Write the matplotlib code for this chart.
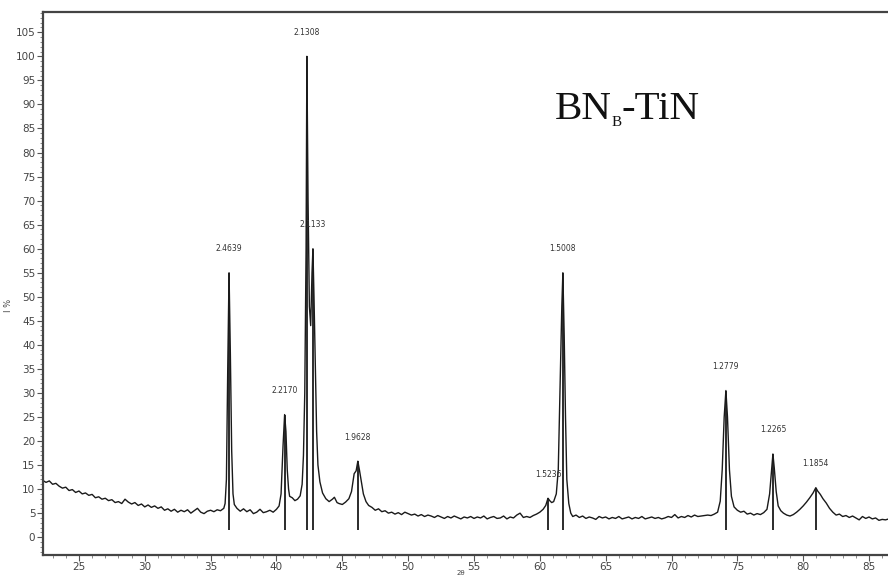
import matplotlib
matplotlib.use("Agg")
import matplotlib.pyplot as plt
from matplotlib.ticker import MultipleLocator

# ---- data: (2theta, I%), by region ----
bg_low = [
    (22.25, 11.8), (22.5, 11.4), (22.75, 11.7), (23.0, 11.0), (23.25, 11.2), (23.5, 10.6),
    (23.75, 10.2), (24.0, 10.4), (24.25, 9.7), (24.5, 9.9), (24.75, 9.3), (25.0, 9.6),
    (25.25, 9.0), (25.5, 9.2), (25.75, 8.7), (26.0, 8.9), (26.25, 8.2), (26.5, 8.4),
    (26.75, 7.9), (27.0, 8.1), (27.25, 7.6), (27.5, 7.8), (27.75, 7.2), (28.0, 7.4),
    (28.25, 7.0), (28.5, 7.9), (28.75, 7.3), (29.0, 6.9), (29.25, 7.2), (29.5, 6.6),
    (29.75, 6.9), (30.0, 6.3), (30.25, 6.7), (30.5, 6.2), (30.75, 6.5), (31.0, 6.0),
    (31.25, 6.3), (31.5, 5.6), (31.75, 5.9), (32.0, 5.4), (32.25, 5.8), (32.5, 5.2),
    (32.75, 5.6), (33.0, 5.3), (33.25, 5.7), (33.5, 5.0), (33.75, 5.5), (34.0, 6.0),
    (34.25, 5.2), (34.5, 4.9), (34.75, 5.4), (35.0, 5.6), (35.25, 5.3), (35.5, 5.7),
    (35.75, 5.5), (36.0, 6.0),
]
peaks_36_47 = [
    (36.1, 7.0), (36.2, 12.0), (36.3, 35.0), (36.4, 55.0), (36.5, 38.0), (36.6, 18.0),
    (36.7, 9.0), (36.8, 6.8), (37.0, 6.0), (37.25, 5.4), (37.5, 5.9), (37.75, 5.3),
    (38.0, 5.7), (38.25, 4.9), (38.5, 5.2), (38.75, 5.8), (39.0, 5.1), (39.25, 5.3),
    (39.5, 5.6), (39.75, 5.2), (40.0, 5.8), (40.2, 6.5), (40.35, 9.0), (40.5, 19.0),
    (40.62, 25.5), (40.72, 22.0), (40.82, 14.0), (40.92, 10.0), (41.0, 8.5), (41.2, 8.2),
    (41.4, 7.6), (41.6, 7.9), (41.8, 8.6), (41.95, 11.0), (42.05, 17.0), (42.15, 30.0),
    (42.25, 60.0), (42.31, 100.0), (42.4, 70.0), (42.5, 48.0), (42.6, 44.0), (42.7, 55.0),
    (42.77, 60.0), (42.85, 50.0), (42.95, 36.0), (43.05, 22.0), (43.15, 15.0), (43.3, 11.5),
    (43.5, 9.2), (43.75, 8.0), (44.0, 7.4), (44.25, 7.9), (44.4, 8.3), (44.6, 7.2),
    (44.75, 7.0), (45.0, 6.8), (45.25, 7.3), (45.5, 8.0), (45.7, 9.5), (45.9, 13.2),
    (46.05, 13.8), (46.18, 15.8), (46.3, 14.0), (46.45, 11.5), (46.6, 9.0), (46.8, 7.4),
    (47.0, 6.6),
]
bg_mid = [
    (47.25, 6.2), (47.5, 5.6), (47.75, 5.9), (48.0, 5.3), (48.25, 5.5), (48.5, 5.0),
    (48.75, 5.2), (49.0, 4.8), (49.25, 5.1), (49.5, 4.7), (49.75, 5.2), (50.0, 4.9),
    (50.25, 4.6), (50.5, 4.8), (50.75, 4.4), (51.0, 4.7), (51.25, 4.3), (51.5, 4.6),
    (51.75, 4.4), (52.0, 4.1), (52.25, 4.5), (52.5, 4.2), (52.75, 3.9), (53.0, 4.3),
    (53.25, 4.0), (53.5, 4.4), (53.75, 4.1), (54.0, 3.8), (54.25, 4.2), (54.5, 4.0),
    (54.75, 4.3), (55.0, 3.9), (55.25, 4.2), (55.5, 4.0), (55.75, 4.4), (56.0, 3.8),
    (56.25, 4.1), (56.5, 4.3), (56.75, 3.9), (57.0, 4.0), (57.25, 4.4), (57.5, 3.8),
    (57.75, 4.2), (58.0, 4.0), (58.25, 4.6), (58.5, 5.0), (58.75, 4.1), (59.0, 4.3),
    (59.25, 4.1), (59.5, 4.5), (59.75, 4.8),
]
peaks_60_62 = [
    (60.0, 5.2), (60.25, 5.8), (60.45, 6.6), (60.62, 8.1), (60.75, 7.6), (60.9, 7.2),
    (61.05, 7.4), (61.25, 9.0), (61.4, 14.0), (61.55, 33.0), (61.67, 48.0), (61.75, 55.0),
    (61.85, 42.0), (61.95, 25.0), (62.05, 12.0), (62.2, 7.0), (62.35, 5.0), (62.5, 4.3),
]
bg_high = [
    (62.75, 4.6), (63.0, 4.1), (63.25, 4.4), (63.5, 3.9), (63.75, 4.2), (64.0, 4.0),
    (64.25, 3.7), (64.5, 4.3), (64.75, 4.0), (65.0, 4.2), (65.25, 3.8), (65.5, 4.1),
    (65.75, 3.9), (66.0, 4.3), (66.25, 3.8), (66.5, 4.0), (66.75, 4.2), (67.0, 3.8),
    (67.25, 4.1), (67.5, 3.9), (67.75, 4.3), (68.0, 3.8), (68.25, 4.0), (68.5, 4.2),
    (68.75, 3.9), (69.0, 4.1), (69.25, 3.8), (69.5, 4.0), (69.75, 4.3), (70.0, 4.1),
    (70.25, 4.7), (70.5, 4.0), (70.75, 4.3), (71.0, 4.1), (71.25, 4.5), (71.5, 4.2),
    (71.75, 4.6), (72.0, 4.3), (72.25, 4.4), (72.5, 4.5), (72.75, 4.6), (73.0, 4.5),
    (73.25, 4.8),
]
peaks_74_82 = [
    (73.5, 5.2), (73.7, 7.5), (73.85, 14.0), (74.0, 25.0), (74.13, 30.5), (74.25, 25.0),
    (74.4, 14.0), (74.55, 8.5), (74.75, 6.3), (75.0, 5.6), (75.25, 5.2), (75.5, 5.4),
    (75.75, 4.8), (76.0, 5.0), (76.25, 4.6), (76.5, 4.9), (76.75, 4.7), (77.0, 5.1),
    (77.25, 5.8), (77.45, 9.0), (77.6, 14.0), (77.7, 17.3), (77.8, 14.5), (77.95, 9.5),
    (78.1, 6.5), (78.3, 5.5), (78.5, 5.0), (78.75, 4.6), (79.0, 4.4), (79.25, 4.7),
    (79.5, 5.2), (79.75, 5.8), (80.0, 6.5), (80.25, 7.3), (80.5, 8.2), (80.75, 9.2),
    (80.96, 10.3), (81.1, 9.6), (81.3, 8.9), (81.5, 8.0), (81.75, 7.1), (82.0, 6.0),
]
bg_tail = [
    (82.25, 5.2), (82.5, 4.6), (82.75, 4.8), (83.0, 4.3), (83.25, 4.5), (83.5, 4.1),
    (83.75, 4.4), (84.0, 4.0), (84.25, 3.6), (84.5, 4.3), (84.75, 3.9), (85.0, 4.2),
    (85.25, 3.8), (85.5, 4.0), (85.75, 3.5), (86.0, 3.7), (86.25, 3.6), (86.5, 3.8),
]

# peak sticks: position (2theta), height (I%), d-spacing label
stick_pos = [36.40, 40.62, 42.31, 42.77, 46.18, 60.62, 61.75, 74.13, 77.70, 80.96]
stick_height = [55.0, 25.5, 100.0, 60.0, 15.8, 8.1, 55.0, 30.5, 17.3, 10.3]
d_labels = ["2.4639", "2.2170", "2.1308", "2.1133", "1.9628",
            "1.5236", "1.5008", "1.2779", "1.2265", "1.1854"]
stick_base = 1.5

x_major_ticks = [25, 30, 35, 40, 45, 50, 55, 60, 65, 70, 75, 80, 85]
y_major_ticks = list(range(0, 110, 5))

# ---- figure ----
fig = plt.figure(figsize=(8.88, 5.76), dpi=100)
ax = fig.add_axes([0.0484, 0.0365, 0.9516, 0.9425])

pattern = bg_low + peaks_36_47 + bg_mid + peaks_60_62 + bg_high + peaks_74_82 + bg_tail
xs = [p[0] for p in pattern]
ys = [p[1] for p in pattern]
line_col = '#1a1a1a'
ax.plot(xs, ys, color=line_col, lw=1.0)

ax.vlines(stick_pos, stick_base, stick_height, colors=line_col, lw=1.3)
for xp, h, lab in zip(stick_pos, stick_height, d_labels):
    ax.text(xp, h + 5.0, lab, ha='center', va='center', fontsize=5.5, color='#333333')

# sample name: "BN" + small subscript "B" + "-TiN"
serif = 'Liberation Serif'
t1 = ax.text(0.606, 0.803, 'BN', transform=ax.transAxes, fontsize=29.5,
             family=serif, color='#111111', ha='left', va='baseline')
t2 = ax.annotate('B', xy=(1, 0), xycoords=t1, xytext=(-0.5, -1.0),
                 textcoords='offset points', fontsize=11, family=serif,
                 color='#111111', ha='left', va='bottom')
t3 = ax.annotate('-TiN', xy=(1, 0), xycoords=t2, xytext=(0.0, 1.0),
                 textcoords='offset points', fontsize=29.5, family=serif,
                 color='#111111', ha='left', va='bottom')

ax.set_xlim(22.27, 86.44)
ax.set_ylim(-3.7, 109.2)
ax.set_xticks(x_major_ticks)
ax.set_yticks(y_major_ticks)
ax.xaxis.set_minor_locator(MultipleLocator(1))
ax.yaxis.set_minor_locator(MultipleLocator(1))
ax.tick_params(axis='both', which='major', direction='out', length=4, width=0.8,
               labelsize=7.5, labelcolor='#444444', color='#555555', pad=1.5)
ax.tick_params(axis='x', which='major', pad=1.0)
ax.tick_params(axis='both', which='minor', direction='out', length=2, width=0.6,
               color='#777777')

for s in ['top', 'left', 'bottom']:
    ax.spines[s].set_linewidth(1.6)
    ax.spines[s].set_color('#444444')
ax.spines['right'].set_visible(False)

ax.set_ylabel('I %', fontsize=6, color='#444444')
ax.yaxis.set_label_coords(-0.036, 0.46)
ax.set_xlabel('2θ', fontsize=5, color='#444444', va='bottom')
ax.xaxis.set_label_coords(0.494, -0.0385)

fig.savefig('out.png', dpi=100)
